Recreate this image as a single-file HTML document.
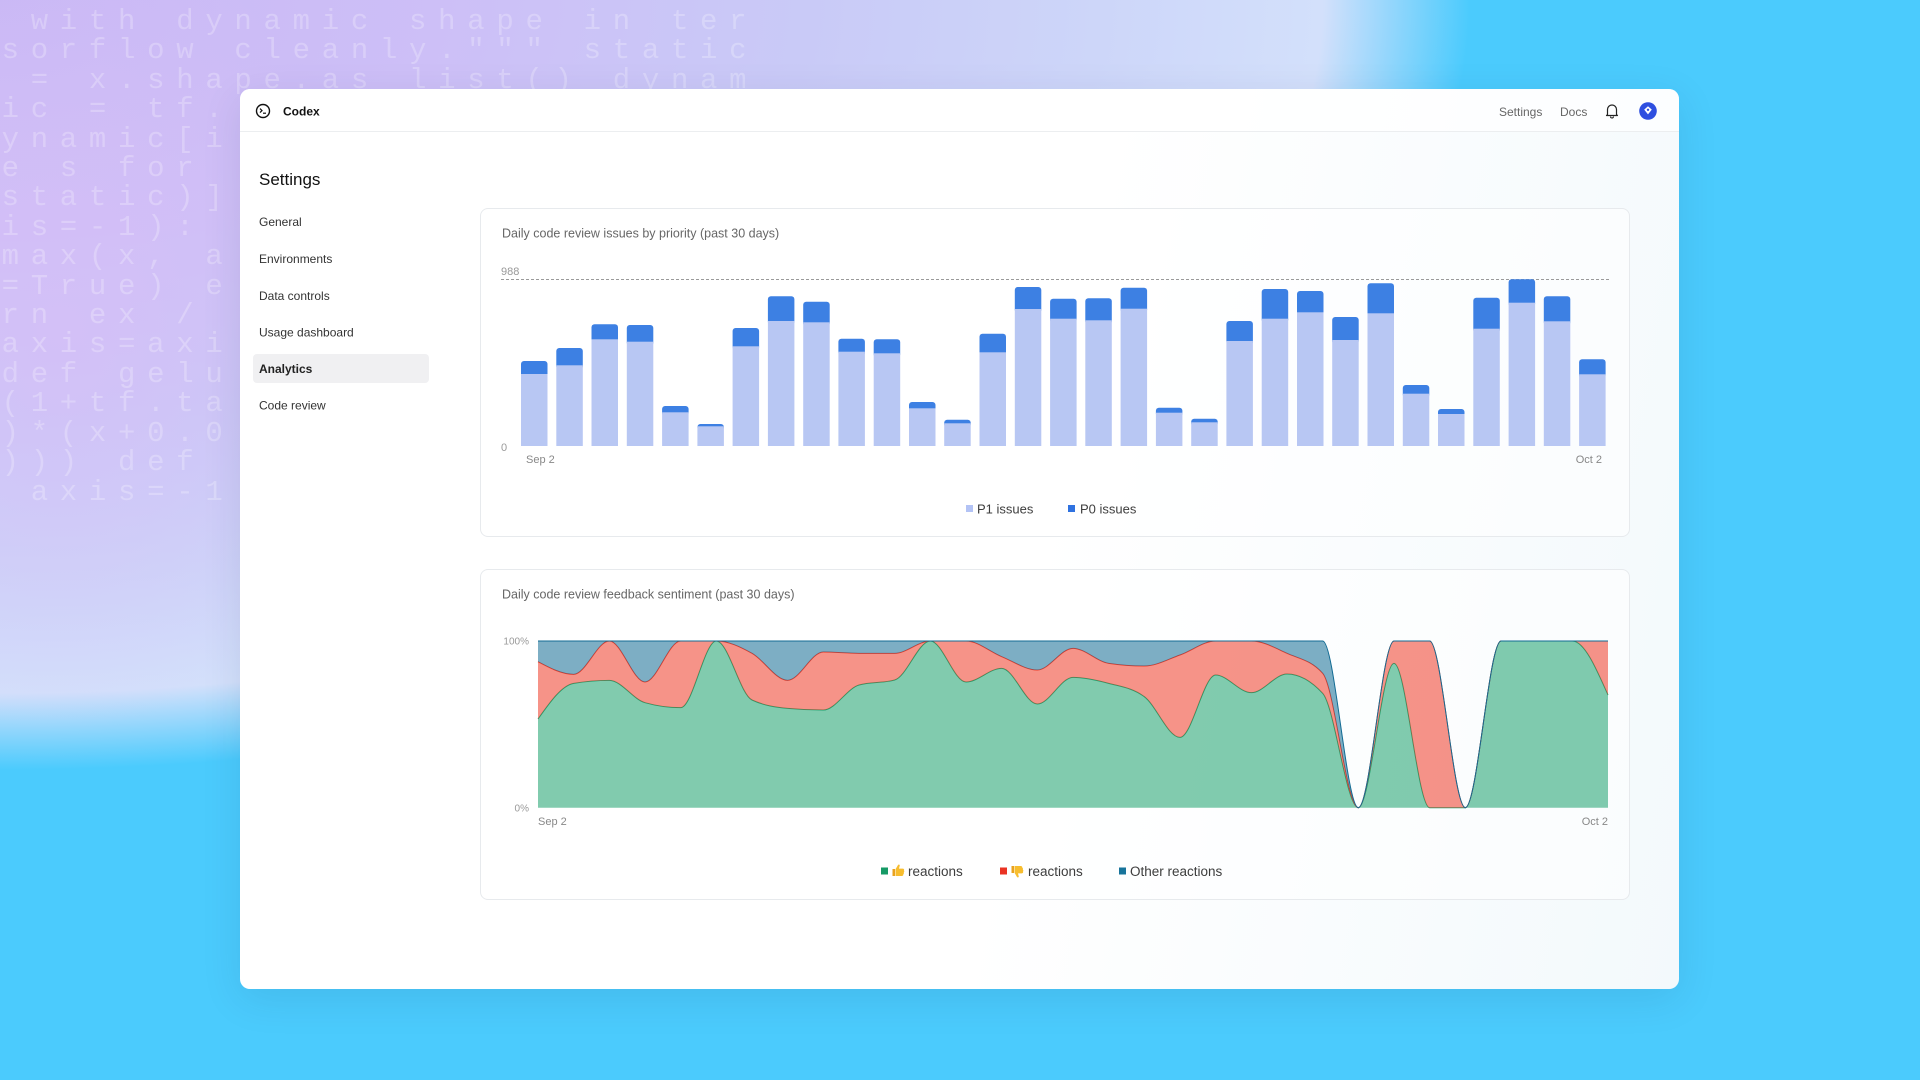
<!DOCTYPE html>
<html>
<head>
<meta charset="utf-8">
<style>
  html,body{margin:0;padding:0;}
  body{width:1920px;height:1080px;overflow:hidden;position:relative;
    background:
      radial-gradient(ellipse 330px 400px at 60px 330px, rgba(214,190,247,0.75), rgba(214,190,247,0)),
      radial-gradient(ellipse 1470px 770px at 0px 0px, #c9b8f5 0%, #cdbff7 30%, #c9caf7 55%, #cdd6f9 75%, #d3e0fb 90%, rgba(75,203,253,0) 100%),
      #4bcbfd;
    font-family:"Liberation Sans", sans-serif;}
  #code{position:absolute;left:1.6px;top:7px;width:750px;height:520px;overflow:hidden;
    font-family:"Liberation Mono", monospace;font-size:29px;letter-spacing:11.7px;line-height:29.4px;
    color:rgba(255,255,255,0.25);white-space:pre;}
  #win{position:absolute;left:240px;top:89px;width:1439px;height:900px;border-radius:10px;
    background:linear-gradient(100deg,#ffffff 55%,#f3f9fc 100%);
    box-shadow:0 10px 40px rgba(0,40,80,0.10);overflow:hidden;}
  #hdr{position:absolute;left:0;top:0;width:100%;height:42px;border-bottom:1px solid #eceef0;background:rgba(255,255,255,0.7);}
  .card{position:absolute;left:240px;width:1148px;border:1px solid #e7eaed;border-radius:8px;background:rgba(255,255,255,0.55);}
  svg{position:absolute;left:0;top:0;}
  .hid{font-size:0;}
</style>
</head>
<body>
<div id="code"> with dynamic shape in ter
sorflow cleanly.""" static
 = x.shape.as_list() dynam
ic = tf.
ynamic[i
e s for
static)]
is=-1):
max(x, a
=True) e
rn ex /
axis=axi
def gelu
(1+tf.ta
)*(x+0.0
))) def
 axis=-1</div>

<div id="win">
  <div id="hdr"></div>
  <div class="card" style="top:119px;height:327px;"></div>
  <div class="card" style="top:480px;height:329px;"></div>
</div>

<svg width="1920" height="1080" viewBox="0 0 1920 1080" xmlns="http://www.w3.org/2000/svg" font-family="Liberation Sans, sans-serif">
  <!-- header -->
  <circle cx="263" cy="111" r="6.5" fill="none" stroke="#111" stroke-width="1.4"/>
  <path d="M260 108.6 l2 2 l-2 2" fill="none" stroke="#111" stroke-width="1.2"/>
  <path d="M263 113.2 h3" stroke="#111" stroke-width="1.2"/>
  <text x="283" y="115.3" font-size="12" font-weight="700" fill="#111">Codex</text>
  <text x="1499" y="116" font-size="12" fill="#666">Settings</text>
  <text x="1560" y="116" font-size="12" fill="#666">Docs</text>
  <path d="M1607.5 114.5 V109.5 a4.5 4.5 0 0 1 9 0 V114.5 l1 1 h-11 z" fill="none" stroke="#222" stroke-width="1.2" stroke-linejoin="round"/>
  <path d="M1610.5 116.5 a1.5 1.5 0 0 0 3 0" fill="none" stroke="#222" stroke-width="1.1"/>
  <circle cx="1648" cy="111" r="8.8" fill="#2e4fe0"/>
  <path d="M1644.2 109.6 l3.8 -3.4 l3.8 3.4 l-3.8 4.8 z" fill="#fff"/>
  <circle cx="1648" cy="109.8" r="1.2" fill="#2e4fe0"/>

  <!-- sidebar -->
  <text x="259" y="185" font-size="17" fill="#111">Settings</text>
  <rect x="253" y="354" width="176" height="29" rx="4" fill="#f0f0f2"/>
  <g font-size="12" fill="#333">
    <text x="259" y="226">General</text>
    <text x="259" y="263">Environments</text>
    <text x="259" y="300">Data controls</text>
    <text x="259" y="336.5">Usage dashboard</text>
    <text x="259" y="373" font-weight="700" fill="#222">Analytics</text>
    <text x="259" y="409.5">Code review</text>
  </g>

  <!-- chart 1 -->
  <text x="502" y="237.3" font-size="12.5" fill="#666">Daily code review issues by priority (past 30 days)</text>
  <text x="501" y="275" font-size="11" fill="#999">988</text>
  <text x="501" y="451" font-size="11" fill="#999">0</text>
  <line x1="501" y1="279.5" x2="1610" y2="279.5" stroke="#9a9a9a" stroke-width="1" stroke-dasharray="3 2"/>
  <g fill="#3d80e3">
    <rect x="521.0" y="361" width="26.5" height="17" rx="3"/>
    <rect x="556.3" y="348" width="26.5" height="21.3" rx="3"/>
    <rect x="591.5" y="324.3" width="26.5" height="19" rx="3"/>
    <rect x="626.8" y="325" width="26.5" height="20.7" rx="3"/>
    <rect x="662.1" y="406" width="26.5" height="10.3" rx="3"/>
    <rect x="697.4" y="424" width="26.5" height="6.3" rx="3"/>
    <rect x="732.6" y="328" width="26.5" height="22.3" rx="3"/>
    <rect x="767.9" y="296.3" width="26.5" height="28.7" rx="3"/>
    <rect x="803.2" y="301.7" width="26.5" height="24.6" rx="3"/>
    <rect x="838.4" y="338.7" width="26.5" height="17" rx="3"/>
    <rect x="873.7" y="339.3" width="26.5" height="18" rx="3"/>
    <rect x="909.0" y="402" width="26.5" height="10.3" rx="3"/>
    <rect x="944.2" y="419.7" width="26.5" height="7.6" rx="3"/>
    <rect x="979.5" y="333.7" width="26.5" height="22.6" rx="3"/>
    <rect x="1014.8" y="287" width="26.5" height="26" rx="3"/>
    <rect x="1050.1" y="298.7" width="26.5" height="24" rx="3"/>
    <rect x="1085.3" y="298.3" width="26.5" height="26" rx="3"/>
    <rect x="1120.6" y="287.7" width="26.5" height="25" rx="3"/>
    <rect x="1155.9" y="407.7" width="26.5" height="9" rx="3"/>
    <rect x="1191.2" y="418.7" width="26.5" height="7.6" rx="3"/>
    <rect x="1226.4" y="321" width="26.5" height="24" rx="3"/>
    <rect x="1261.7" y="289" width="26.5" height="33.7" rx="3"/>
    <rect x="1297.0" y="291" width="26.5" height="25.3" rx="3"/>
    <rect x="1332.2" y="317" width="26.5" height="27" rx="3"/>
    <rect x="1367.5" y="283.3" width="26.5" height="34" rx="3"/>
    <rect x="1402.8" y="385" width="26.5" height="12.7" rx="3"/>
    <rect x="1438.0" y="409" width="26.5" height="9" rx="3"/>
    <rect x="1473.3" y="297.7" width="26.5" height="35" rx="3"/>
    <rect x="1508.6" y="279.3" width="26.5" height="27.4" rx="3"/>
    <rect x="1543.8" y="296.3" width="26.5" height="29" rx="3"/>
    <rect x="1579.1" y="359.3" width="26.5" height="19" rx="3"/>
  </g>
  <g fill="#b8c7f3">
    <rect x="521.0" y="374" width="26.5" height="72"/>
    <rect x="556.3" y="365.3" width="26.5" height="80.7"/>
    <rect x="591.5" y="339.3" width="26.5" height="106.7"/>
    <rect x="626.8" y="341.7" width="26.5" height="104.3"/>
    <rect x="662.1" y="412.3" width="26.5" height="33.7"/>
    <rect x="697.4" y="426.3" width="26.5" height="19.7"/>
    <rect x="732.6" y="346.3" width="26.5" height="99.7"/>
    <rect x="767.9" y="321" width="26.5" height="125"/>
    <rect x="803.2" y="322.3" width="26.5" height="123.7"/>
    <rect x="838.4" y="351.7" width="26.5" height="94.3"/>
    <rect x="873.7" y="353.3" width="26.5" height="92.7"/>
    <rect x="909.0" y="408.3" width="26.5" height="37.7"/>
    <rect x="944.2" y="423.3" width="26.5" height="22.7"/>
    <rect x="979.5" y="352.3" width="26.5" height="93.7"/>
    <rect x="1014.8" y="309" width="26.5" height="137"/>
    <rect x="1050.1" y="318.7" width="26.5" height="127.3"/>
    <rect x="1085.3" y="320.3" width="26.5" height="125.7"/>
    <rect x="1120.6" y="308.7" width="26.5" height="137.3"/>
    <rect x="1155.9" y="412.7" width="26.5" height="33.3"/>
    <rect x="1191.2" y="422.3" width="26.5" height="23.7"/>
    <rect x="1226.4" y="341" width="26.5" height="105"/>
    <rect x="1261.7" y="318.7" width="26.5" height="127.3"/>
    <rect x="1297.0" y="312.3" width="26.5" height="133.7"/>
    <rect x="1332.2" y="340" width="26.5" height="106"/>
    <rect x="1367.5" y="313.3" width="26.5" height="132.7"/>
    <rect x="1402.8" y="393.7" width="26.5" height="52.3"/>
    <rect x="1438.0" y="414" width="26.5" height="32"/>
    <rect x="1473.3" y="328.7" width="26.5" height="117.3"/>
    <rect x="1508.6" y="302.7" width="26.5" height="143.3"/>
    <rect x="1543.8" y="321.3" width="26.5" height="124.7"/>
    <rect x="1579.1" y="374.3" width="26.5" height="71.7"/>
  </g>
  <text x="526" y="463" font-size="11" fill="#888">Sep 2</text>
  <text x="1602" y="463" font-size="11" fill="#888" text-anchor="end">Oct 2</text>
  <rect x="966" y="505" width="7" height="7" fill="#b3c3f5"/>
  <text x="977" y="513.3" font-size="13" fill="#3d3d3d">P1 issues</text>
  <rect x="1068" y="505" width="7" height="7" fill="#2f72e0"/>
  <text x="1080" y="513.3" font-size="13" fill="#3d3d3d">P0 issues</text>

  <!-- chart 2 -->
  <text x="502" y="598.5" font-size="12.5" fill="#666">Daily code review feedback sentiment (past 30 days)</text>
  <text x="529" y="644.6" font-size="10" fill="#999" text-anchor="end">100%</text>
  <text x="529" y="811.5" font-size="10" fill="#999" text-anchor="end">0%</text>
  <g id="areas"></g>
  <text x="538" y="825" font-size="11" fill="#888">Sep 2</text>
  <text x="1608" y="825" font-size="11" fill="#888" text-anchor="end">Oct 2</text>

  <rect x="881" y="867.5" width="7" height="7" fill="#169a66"/>
  <g transform="translate(892,864)">
    <path d="M0.5 5 h2.5 v7 h-2.5 z" fill="#e9a21f"/>
    <path d="M3.5 5.2 L6 1 Q7.3 -0.2 7.8 1.4 L7 4.6 H11 Q12.6 5 12 6.6 Q12.8 7.5 11.8 8.4 Q12.4 9.4 11.3 10.2 Q11.6 11.6 10 12 H3.5 Z" fill="#f7bd2e"/>
  </g>
  <text x="908" y="876" font-size="13.5" fill="#3d3d3d">reactions</text>
  <text x="906" y="876" class="hid">👍</text>
  <rect x="1000" y="867.5" width="7" height="7" fill="#ea3323"/>
  <g transform="translate(1011,865) scale(1,-1) translate(0,-13)">
    <path d="M0.5 5 h2.5 v7 h-2.5 z" fill="#e9a21f"/>
    <path d="M3.5 5.2 L6 1 Q7.3 -0.2 7.8 1.4 L7 4.6 H11 Q12.6 5 12 6.6 Q12.8 7.5 11.8 8.4 Q12.4 9.4 11.3 10.2 Q11.6 11.6 10 12 H3.5 Z" fill="#f7bd2e"/>
  </g>
  <text x="1028" y="876" font-size="13.5" fill="#3d3d3d">reactions</text>
  <text x="1026" y="876" class="hid">👎</text>
  <rect x="1119" y="867.5" width="7" height="7" fill="#17749b"/>
  <text x="1130" y="876" font-size="13.5" fill="#3d3d3d">Other reactions</text>
</svg>

<script>
(function(){
  var X0=538, X1=1608, YB=807.7, H=166.7, n=31;
  var g=[0.532,0.746,0.764,0.63,0.60,1.0,0.646,0.596,0.586,0.736,0.766,1.0,0.754,0.836,0.622,0.782,0.746,0.666,0.422,0.796,0.69,0.802,0.686,0,0.866,0,0,1,1,1,0.676];
  var r=[0.876,0.80,1.0,0.754,1.0,1.0,0.926,0.764,0.934,0.926,0.926,1.0,1.0,0.906,0.826,0.956,0.866,0.85,0.916,1.0,1.0,0.926,0.806,0,1.0,1.0,0,1,1,1,1];
  var b=[];for(var i=0;i<n;i++){b.push((i===23||i===26)?0:1);}
  var xs=[];for(i=0;i<n;i++)xs.push(X0+i*(X1-X0)/(n-1));
  function Y(a){return a.map(function(f){return YB-f*H;});}
  function sgn(v){return v<0?-1:(v>0?1:0);}
  function tang(ys){
    var t=new Array(n);
    for(var i=1;i<n-1;i++){
      var h0=xs[i]-xs[i-1],h1=xs[i+1]-xs[i],s0=(ys[i]-ys[i-1])/h0,s1=(ys[i+1]-ys[i])/h1,p=(s0*h1+s1*h0)/(h0+h1);
      t[i]=(sgn(s0)+sgn(s1))*Math.min(Math.abs(s0),Math.abs(s1),0.5*Math.abs(p))||0;
    }
    t[0]=(3*(ys[1]-ys[0])/(xs[1]-xs[0])-t[1])/2;
    t[n-1]=(3*(ys[n-1]-ys[n-2])/(xs[n-1]-xs[n-2])-t[n-2])/2;
    return t;
  }
  function fwd(ys){
    var t=tang(ys),s="";
    for(var i=0;i<n-1;i++){var dx=(xs[i+1]-xs[i])/3;
      s+=" C"+(xs[i]+dx).toFixed(2)+","+(ys[i]+dx*t[i]).toFixed(2)+" "+(xs[i+1]-dx).toFixed(2)+","+(ys[i+1]-dx*t[i+1]).toFixed(2)+" "+xs[i+1].toFixed(2)+","+ys[i+1].toFixed(2);}
    return s;
  }
  function rev(ys){
    var t=tang(ys),s="";
    for(var i=n-2;i>=0;i--){var dx=(xs[i+1]-xs[i])/3;
      s+=" C"+(xs[i+1]-dx).toFixed(2)+","+(ys[i+1]-dx*t[i+1]).toFixed(2)+" "+(xs[i]+dx).toFixed(2)+","+(ys[i]+dx*t[i]).toFixed(2)+" "+xs[i].toFixed(2)+","+ys[i].toFixed(2);}
    return s;
  }
  var gy=Y(g),ry=Y(r),by=Y(b);
  var NS="http://www.w3.org/2000/svg",grp=document.getElementById("areas");
  function add(d,fill,op,stroke){var p=document.createElementNS(NS,"path");p.setAttribute("d",d);
    p.setAttribute("fill",fill);if(fill!=="none")p.setAttribute("fill-opacity",op);
    if(stroke){p.setAttribute("stroke",stroke);p.setAttribute("stroke-width","1");}
    grp.appendChild(p);}
  var GC="#1aa06c",RC="#ee3a26",BC="#126b93",OP=0.55;
  add("M"+xs[0]+","+gy[0]+fwd(gy)+" L"+X1+","+YB+" L"+X0+","+YB+" Z",GC,OP,null);
  add("M"+xs[0]+","+gy[0]+fwd(gy),"none",0,GC);
  add("M"+xs[0]+","+ry[0]+fwd(ry)+" L"+X1+","+gy[n-1]+rev(gy)+" Z",RC,OP,null);
  add("M"+xs[0]+","+ry[0]+fwd(ry),"none",0,RC);
  add("M"+xs[0]+","+by[0]+fwd(by)+" L"+X1+","+ry[n-1]+rev(ry)+" Z",BC,OP,null);
  add("M"+xs[0]+","+by[0]+fwd(by),"none",0,BC);
})();
</script>
</body>
</html>
